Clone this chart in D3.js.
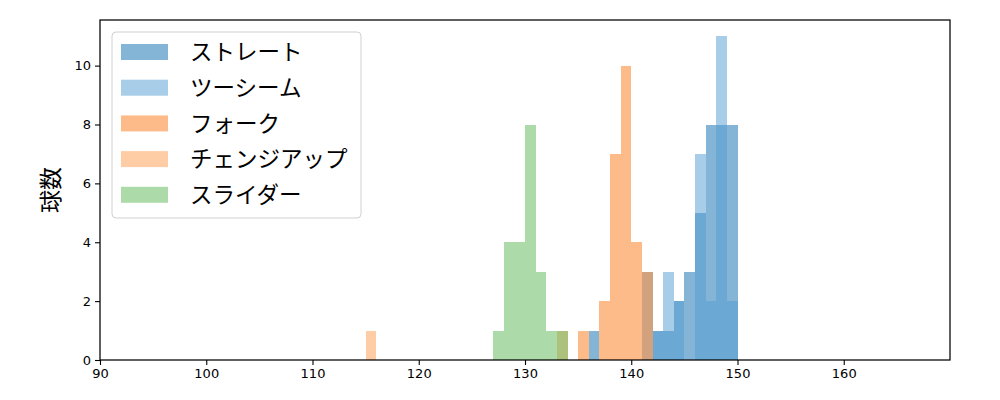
<!DOCTYPE html>
<html>
<head>
<meta charset="utf-8">
<script src="https://cdn.jsdelivr.net/npm/d3@7.9.0/dist/d3.min.js"></script>
<style>
  body { margin: 0; background: #fff; }
  svg { display: block; }
  .tick text { font-family: "DejaVu Sans", sans-serif; font-size: 13px; fill: #000; }
</style>
</head>
<body>
<svg id="chart" width="1000" height="400"></svg>
<script>
// bins are 1 km/h wide, keyed by their left edge: [binStart, count]
const pitchNames = ["ストレート", "ツーシーム", "フォーク", "チェンジアップ", "スライダー"];
const straight = [[136, 1], [142, 1], [143, 1], [144, 2], [145, 3], [146, 5], [147, 8], [148, 8], [149, 8]];
const twoSeam = [[141, 3], [142, 1], [143, 3], [144, 2], [146, 7], [147, 2], [148, 11], [149, 2]];
const fork = [[135, 1], [137, 2], [138, 7], [139, 10], [140, 4], [141, 3]];
const changeup = [[115, 1], [133, 1]];
const slider = [[127, 1], [128, 4], [129, 4], [130, 8], [131, 3], [132, 1], [133, 1]];
const pitchColors = ["#0969ad", "#519bd1", "#fb7715", "#fd9b4b", "#59b551"];
const xTicks = [90, 100, 110, 120, 130, 140, 150, 160];
const yTicks = [0, 2, 4, 6, 8, 10];

const series = [straight, twoSeam, fork, changeup, slider];

const svg = d3.select("#chart");
const margin = { left: 100, right: 50, top: 20, bottom: 40 };
const W = 1000, H = 400;

const x = d3.scaleLinear().domain([90, 170]).range([margin.left, W - margin.right]);
const y = d3.scaleLinear().domain([0, 11.55]).range([H - margin.bottom, margin.top]);

// bars
series.forEach((bins, i) => {
  svg.append("g")
    .attr("shape-rendering", "crispEdges")
    .selectAll("rect")
    .data(bins)
    .join("rect")
    .attr("x", d => x(d[0]))
    .attr("width", d => x(d[0] + 1) - x(d[0]))
    .attr("y", d => y(d[1]))
    .attr("height", d => y(0) - y(d[1]))
    .attr("fill", pitchColors[i])
    .attr("fill-opacity", 0.5);
});

// axes
const xAxis = svg.append("g")
  .attr("transform", `translate(0,${y(0)})`)
  .call(d3.axisBottom(x).tickValues(xTicks).tickSize(5).tickPadding(4));
const yAxis = svg.append("g")
  .attr("transform", `translate(${x(90)},0)`)
  .call(d3.axisLeft(y).tickValues(yTicks).tickSize(5).tickPadding(4));
[xAxis, yAxis].forEach(a => {
  a.select(".domain").remove();
  a.selectAll(".tick line").attr("stroke", "#000").attr("stroke-width", 1.1);
});

// frame
svg.append("rect")
  .attr("x", x(90)).attr("y", y(11.55))
  .attr("width", x(170) - x(90)).attr("height", y(0) - y(11.55))
  .attr("fill", "none").attr("stroke", "#000").attr("stroke-width", 1.25);

// y label
svg.append("text")
  .attr("transform", `translate(51,${(y(0) + y(11.55)) / 2}) rotate(-90)`)
  .attr("text-anchor", "middle")
  .attr("dy", "0.36em")
  .attr("font-family", "'Noto Sans CJK JP', sans-serif")
  .attr("font-size", 23)
  .text("球数");

// legend
const legend = svg.append("g").attr("transform", "translate(112,32)");
legend.append("rect")
  .attr("width", 249).attr("height", 186).attr("rx", 4)
  .attr("fill", "#fff").attr("fill-opacity", 0.8)
  .attr("stroke", "#d0d0d0");
const items = legend.selectAll("g.item")
  .data(pitchNames)
  .join("g")
  .attr("class", "item")
  .attr("transform", (d, i) => `translate(0,${12 + i * 35.7})`);
items.append("rect")
  .attr("x", 9).attr("width", 47).attr("height", 16)
  .attr("fill", (d, i) => pitchColors[i]).attr("fill-opacity", 0.5);
items.append("text")
  .attr("x", 78).attr("y", 8).attr("dy", "0.36em")
  .attr("font-family", "'Noto Sans CJK JP', sans-serif")
  .attr("font-size", 22.5)
  .text(d => d);
</script>
</body>
</html>
